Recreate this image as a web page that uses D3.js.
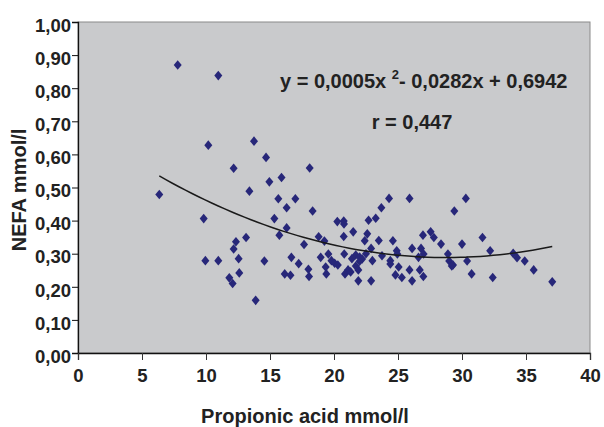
<!DOCTYPE html>
<html>
<head>
<meta charset="utf-8">
<script src="https://cdn.jsdelivr.net/npm/d3@7"></script>
<style>
  body { margin: 0; background: #fff; }
  text { font-family: "Liberation Sans", Arial, sans-serif; font-weight: bold; fill: #222; }
</style>
</head>
<body>
<div id="chart"></div>
<script>
// data
var propionic = [6.35, 7.79, 10.96, 10.18, 13.75, 14.69, 12.16, 18.1, 14.95, 15.9,
  13.39, 15.65, 16.98, 16.3, 18.33, 20.26, 9.82, 15.34, 16.3, 15.73,
  18.8, 19.25, 17.66, 13.13, 12.34, 12.16, 12.55, 9.95, 10.96, 14.56,
  16.67, 17.24, 18.96, 19.56, 19.8, 20.05, 20.3, 19.35, 12.6, 11.82,
  12.08, 16.15, 16.6, 18.0, 18.05, 19.4, 13.88, 24.3, 25.9, 30.3,
  23.7, 29.4, 20.76, 22.7, 23.26, 21.5, 20.76, 22.6, 22.4, 23.5,
  24.6, 26.95, 27.55, 27.8, 28.36, 30.0, 31.6, 32.2, 34.0, 20.8,
  21.7, 22.0, 22.2, 22.0, 22.9, 23.0, 23.75, 24.9, 24.95, 24.4,
  26.1, 26.8, 27.0, 26.6, 28.9, 29.0, 29.3, 30.4, 20.86, 21.1,
  21.7, 21.9, 21.9, 22.9, 24.4, 25.05, 24.8, 25.3, 25.9, 26.1,
  26.7, 26.98, 29.2, 30.75, 32.4, 34.3, 34.9, 35.6, 37.05, 20.78,
  21.4, 22.5, 21.3];
var nefa = [0.479, 0.87, 0.838, 0.628, 0.64, 0.591, 0.558, 0.559, 0.517, 0.53,
  0.489, 0.466, 0.466, 0.439, 0.429, 0.397, 0.406, 0.406, 0.378, 0.356,
  0.351, 0.338, 0.328, 0.349, 0.336, 0.314, 0.285, 0.279, 0.279, 0.278,
  0.289, 0.27, 0.289, 0.299, 0.279, 0.271, 0.266, 0.26, 0.242, 0.227,
  0.21, 0.239, 0.235, 0.253, 0.231, 0.239, 0.159, 0.467, 0.467, 0.467,
  0.439, 0.429, 0.399, 0.401, 0.407, 0.366, 0.352, 0.36, 0.339, 0.34,
  0.339, 0.356, 0.366, 0.349, 0.329, 0.329, 0.349, 0.309, 0.301, 0.299,
  0.296, 0.29, 0.284, 0.277, 0.316, 0.279, 0.294, 0.309, 0.299, 0.279,
  0.316, 0.316, 0.299, 0.289, 0.299, 0.278, 0.266, 0.278, 0.239, 0.251,
  0.263, 0.251, 0.218, 0.218, 0.269, 0.26, 0.236, 0.228, 0.251, 0.218,
  0.251, 0.231, 0.263, 0.239, 0.228, 0.288, 0.278, 0.251, 0.215, 0.39,
  0.285, 0.3, 0.245];
var xTicks = [0, 5, 10, 15, 20, 25, 30, 35, 40];
var yTicks = [0, 0.1, 0.2, 0.3, 0.4, 0.5, 0.6, 0.7, 0.8, 0.9, 1.0];
// trend line y = a x^2 + b x + c (a unrounded)
var coef = [0.00049, -0.0282, 0.6942];

var margin = { top: 22, right: 14, bottom: 74, left: 78 },
  width = 604 - margin.left - margin.right,
  height = 427 - margin.top - margin.bottom;

var svg = d3
  .select("#chart")
  .append("svg")
  .attr("width", 604)
  .attr("height", 427);

var g = svg
  .append("g")
  .attr("transform", "translate(" + margin.left + "," + margin.top + ")");

var x = d3.scaleLinear().domain([0, 40]).range([0, width]);
var y = d3.scaleLinear().domain([0, 1]).range([height, 0]);

// plot area
g.append("rect")
  .attr("x", 0)
  .attr("y", 0)
  .attr("width", width)
  .attr("height", height)
  .attr("fill", "#c9cacc")
  .attr("stroke", "#8a8a8a")
  .attr("stroke-width", 1);

// points
var pts = propionic.map(function (d, i) {
  return { x: d, y: nefa[i] };
});
g.selectAll(".pt")
  .data(pts)
  .enter()
  .append("path")
  .attr("class", "pt")
  .attr("d", "M0,-4.8L4,0L0,4.8L-4,0Z")
  .attr("transform", function (d) {
    return "translate(" + x(d.x) + "," + y(d.y) + ")";
  })
  .attr("fill", "#272779");

// trend curve
var xmin = d3.min(propionic),
  xmax = d3.max(propionic);
var curve = d3.range(0, 61).map(function (i) {
  var xv = xmin + ((xmax - xmin) * i) / 60;
  return [xv, coef[0] * xv * xv + coef[1] * xv + coef[2]];
});
g.append("path")
  .datum(curve)
  .attr("fill", "none")
  .attr("stroke", "#1a1a1a")
  .attr("stroke-width", 1.5)
  .attr("d", d3.line()
    .x(function (d) { return x(d[0]); })
    .y(function (d) { return y(d[1]); })
    .curve(d3.curveMonotoneX));

// axes
var fmt = function (d) {
  return d3.format(".2f")(d).replace(".", ",");
};
var yAxis = g
  .append("g")
  .call(d3.axisLeft(y).tickValues(yTicks).tickFormat(fmt).tickSize(6).tickPadding(1));
yAxis.select(".domain").attr("stroke", "#111").attr("stroke-width", 1.3);
yAxis.selectAll(".tick line").attr("stroke", "#111");
yAxis
  .selectAll(".tick text")
  .attr("font-size", "18.5px")
  .attr("dy", "0.5em")
  .style("font-family", "'Liberation Sans', Arial, sans-serif")
  .style("font-weight", "bold")
  .style("fill", "#222");

var xAxis = g
  .append("g")
  .attr("transform", "translate(0," + height + ")")
  .call(d3.axisBottom(x).tickValues(xTicks).tickSize(7).tickPadding(17));
xAxis.select(".domain").attr("stroke", "#111").attr("stroke-width", 1.3);
xAxis.selectAll(".tick line").attr("stroke", "#333");
xAxis
  .selectAll(".tick text")
  .attr("font-size", "18.5px")
  .attr("dy", "0.25em")
  .style("font-family", "'Liberation Sans', Arial, sans-serif")
  .style("font-weight", "bold")
  .style("fill", "#222");

// axis titles
svg
  .append("text")
  .attr("x", 305)
  .attr("y", 423)
  .attr("text-anchor", "middle")
  .attr("font-size", "20px")
  .text("Propionic acid mmol/l");

svg
  .append("text")
  .attr("transform", "translate(26,190)rotate(-90)")
  .attr("text-anchor", "middle")
  .attr("font-size", "20px")
  .text("NEFA mmol/l");

// equation
var eq = svg
  .append("text")
  .attr("x", 280)
  .attr("y", 88)
  .attr("font-size", "20px");
eq.append("tspan").text("y = 0,0005x ");
eq.append("tspan").attr("dy", "-9").attr("font-size", "13px").text("2");
eq.append("tspan").attr("dy", "9").text("- 0,0282x + 0,6942");

svg
  .append("text")
  .attr("x", 412)
  .attr("y", 129)
  .attr("text-anchor", "middle")
  .attr("font-size", "20px")
  .text("r = 0,447");
</script>
</body>
</html>
